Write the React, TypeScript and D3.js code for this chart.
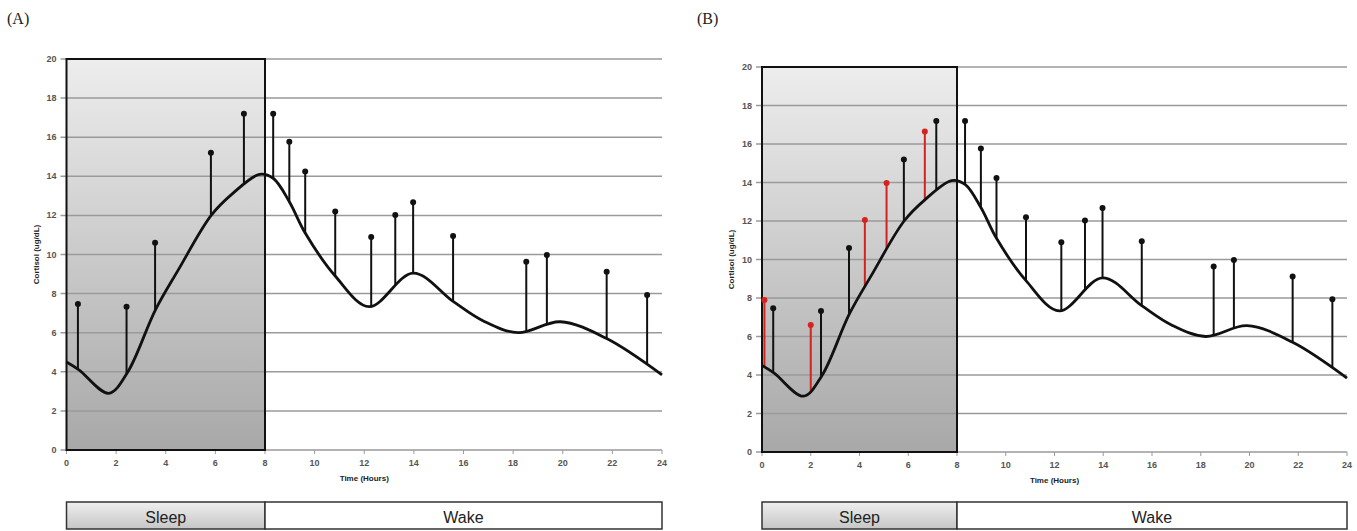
import React from 'react';
import * as d3 from 'd3';

// smooth cortisol curve: hours after sleep onset and ug/dL
const curveTimes = [0, 0.5, 1.7, 2.45, 3.58, 4.5, 5.83, 6.68, 7.78, 8.33, 8.98, 9.62, 10.83, 12.2, 13.97, 15.58, 16.8, 18.2, 19.9, 21.77, 24];
const curveValues = [4.5, 4.1, 2.9, 3.95, 7.16, 9.2, 12.0, 13.1, 14.1, 13.9, 12.7, 11.1, 8.9, 7.33, 9.05, 7.6, 6.6, 6.0, 6.56, 5.7, 3.84];

// measured samples (stems rise from the curve up to the value)
const stemTimes = [0.46, 2.42, 3.57, 5.82, 7.15, 8.33, 8.98, 9.62, 10.83, 12.28, 13.25, 13.97, 15.58, 18.53, 19.36, 21.77, 23.4];
const stemTop = [7.47, 7.33, 10.6, 15.2, 17.2, 17.2, 15.77, 14.24, 12.2, 10.9, 12.02, 12.67, 10.95, 9.63, 9.97, 9.12, 7.93];

const redTimes = [0.1, 2.0, 4.22, 5.11, 6.68];
const redTop = [7.9, 6.6, 12.05, 13.98, 16.65];

const yTicks = [0, 2, 4, 6, 8, 10, 12, 14, 16, 18, 20];
const xTicks = [0, 2, 4, 6, 8, 10, 12, 14, 16, 18, 20, 22, 24];
const sleepEnd = 8;

const knots: [number, number][] = curveTimes.map((t, i) => [t, curveValues[i]]);

const font = '"Liberation Sans", Arial, sans-serif';

// record the curve generator's bezier output as a dense polyline
function sampleLine(gen: d3.Line<[number, number]>, pts: [number, number][]) {
  const out: [number, number][] = [];
  let cx = 0, cy = 0;
  const ctx: any = {
    moveTo(a: number, b: number) { cx = a; cy = b; out.push([a, b]); },
    lineTo(a: number, b: number) { cx = a; cy = b; out.push([a, b]); },
    bezierCurveTo(x1: number, y1: number, x2: number, y2: number, x3: number, y3: number) {
      for (let i = 1; i <= 30; i++) {
        const t = i / 30, u = 1 - t;
        out.push([
          u * u * u * cx + 3 * u * u * t * x1 + 3 * u * t * t * x2 + t * t * t * x3,
          u * u * u * cy + 3 * u * u * t * y1 + 3 * u * t * t * y2 + t * t * t * y3,
        ]);
      }
      cx = x3; cy = y3;
    },
    closePath() {},
  };
  gen.context(ctx)(pts);
  gen.context(null);
  return out;
}

function yAt(samples: [number, number][], px: number) {
  for (let i = 1; i < samples.length; i++) {
    const [x0, y0] = samples[i - 1];
    const [x1, y1] = samples[i];
    if (px >= x0 && px <= x1) return x1 === x0 ? y0 : y0 + (y1 - y0) * (px - x0) / (x1 - x0);
  }
  return samples[samples.length - 1][1];
}

type PanelProps = {
  id: string;
  label: string;
  labelX: number;
  left: number;
  right: number;
  top: number;
  bottom: number;
  showRed: boolean;
};

const Panel = ({ id, label, labelX, left, right, top, bottom, showRed }: PanelProps) => {
  const x = d3.scaleLinear().domain([0, 24]).range([left, right]);
  const y = d3.scaleLinear().domain([0, 20]).range([bottom, top]);
  const line = d3.line<[number, number]>()
    .x(d => x(d[0]))
    .y(d => y(d[1]))
    .curve(d3.curveCatmullRom.alpha(0.5));
  const samples = sampleLine(line, knots);

  const barTop = 502;
  const barBottom = 529;

  const stem = (t: number, v: number, color: string, key: string) => (
    <g key={key}>
      <line x1={x(t)} x2={x(t)} y1={yAt(samples, x(t))} y2={y(v)} stroke={color} strokeWidth={2} />
      <circle cx={x(t)} cy={y(v)} r={3} fill={color} />
    </g>
  );

  return (
    <g>
      <defs>
        <linearGradient id={`sleepGrad${id}`} x1="0" y1="0" x2="0" y2="1">
          <stop offset="0%" stopColor="#ededed" />
          <stop offset="100%" stopColor="#a8a8a8" />
        </linearGradient>
        <linearGradient id={`barGrad${id}`} x1="0" y1="0" x2="0" y2="1">
          <stop offset="0%" stopColor="#efefef" />
          <stop offset="100%" stopColor="#c6c6c6" />
        </linearGradient>
      </defs>

      <text x={labelX} y={24} fontFamily='"Liberation Serif", serif' fontSize={16} fill="#222">{label}</text>

      {/* sleep shaded region */}
      <rect x={x(0)} y={y(20)} width={x(sleepEnd) - x(0)} height={y(0) - y(20)} fill={`url(#sleepGrad${id})`} />

      {/* gridlines */}
      {yTicks.map(v => (
        <line key={v} x1={x(0) - 6} x2={x(24)} y1={y(v)} y2={y(v)} stroke="#9a9a9a" strokeWidth={1.5} />
      ))}
      {yTicks.map(v => (
        <text key={'t' + v} x={x(0) - 10} y={y(v) + 3} textAnchor="end" fontFamily={font} fontSize={9} fontWeight="bold" fill="#555">{v}</text>
      ))}

      {/* x axis ticks */}
      {xTicks.map(t => (
        <g key={t}>
          <line x1={x(t)} x2={x(t)} y1={y(0)} y2={y(0) + 4} stroke="#9a9a9a" strokeWidth={1} />
          <text x={x(t)} y={y(0) + 16} textAnchor="middle" fontFamily={font} fontSize={9} fontWeight="bold" fill="#555">{t}</text>
        </g>
      ))}

      <rect x={x(0)} y={y(20)} width={x(sleepEnd) - x(0)} height={y(0) - y(20)} fill="none" stroke="#111" strokeWidth={2} />

      <text x={x(12)} y={y(0) + 31} textAnchor="middle" fontFamily={font} fontSize={8} fontWeight="bold" fill="#222">Time (Hours)</text>
      <text transform={`translate(${x(0) - 28},${y(10)}) rotate(-90)`} textAnchor="middle" fontFamily={font} fontSize={8} fontWeight="bold" fill="#222">Cortisol (ug/dL)</text>

      {/* stems */}
      {stemTimes.map((t, i) => stem(t, stemTop[i], '#111', 'b' + i))}
      {showRed && redTimes.map((t, i) => stem(t, redTop[i], '#d4231f', 'r' + i))}

      <path d={line(knots) || ''} fill="none" stroke="#111" strokeWidth={2.8} />

      {/* sleep / wake bar */}
      <rect x={x(0)} y={barTop} width={x(sleepEnd) - x(0)} height={barBottom - barTop} fill={`url(#barGrad${id})`} stroke="#333" strokeWidth={1.5} />
      <rect x={x(sleepEnd)} y={barTop} width={x(24) - x(sleepEnd)} height={barBottom - barTop} fill="#fff" stroke="#333" strokeWidth={1.5} />
      <text x={(x(0) + x(sleepEnd)) / 2} y={barTop + 21} textAnchor="middle" fontFamily={font} fontSize={16} fill="#222">Sleep</text>
      <text x={(x(sleepEnd) + x(24)) / 2} y={barTop + 21} textAnchor="middle" fontFamily={font} fontSize={16} fill="#222">Wake</text>
    </g>
  );
};

export default function App() {
  return (
    <svg width={1357} height={531} style={{ position: 'absolute', left: 0, top: 0, background: '#fff' }}>
      <Panel id="A" label="(A)" labelX={7} left={66.5} right={662} top={59} bottom={450} showRed={false} />
      <Panel id="B" label="(B)" labelX={697} left={762} right={1347} top={67} bottom={452} showRed={true} />
    </svg>
  );
}
